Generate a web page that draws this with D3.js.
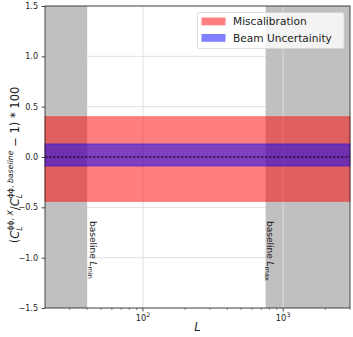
<!DOCTYPE html>
<html>
<head>
<meta charset="utf-8">
<script src="https://cdn.jsdelivr.net/npm/d3@7/dist/d3.min.js"></script>
<style>
  body { margin: 0; background: #fff; }
  text { font-family: 'DejaVu Sans', sans-serif; fill: #222; }
</style>
</head>
<body>
<div id="container"></div>
<script>
// data
const yTicks = [ -1.5, -1.0, -0.5, 0.0, 0.5, 1.0, 1.5 ];
const xMajorTicks = [ 100, 1000 ];
const xMinorTicks = [ 30, 40, 50, 60, 70, 80, 90, 200, 300, 400, 500, 600, 700, 800, 900, 2000, 3000 ];
const bandNames = [ 'Miscalibration', 'Beam Uncertainity' ];
const bandLow = [ -0.44, -0.09 ];
const bandHigh = [ 0.40, 0.13 ];
const bandColors = [ '#ff0000', '#0000ff' ];
const spanLabels = [ 'min', 'max' ];
const spanStart = [ 20, 750 ];
const spanEnd = [ 40, 3000 ];

//_____ LAYOUT _____
const W = 353, H = 337;
const margin = { top: 6, right: 3, bottom: 29, left: 45 };
const width = W - margin.left - margin.right;
const height = H - margin.top - margin.bottom;

const x = d3.scaleLog().domain( [ 20, 3000 ] ).range( [ 0, width ] );
const y = d3.scaleLinear().domain( [ -1.5, 1.5 ] ).range( [ height, 0 ] );

const svg = d3.select( '#container' ).append( 'svg' )
  .attr( 'width', W ).attr( 'height', H );
const g = svg.append( 'g' )
  .attr( 'transform', `translate(${margin.left},${margin.top})` );

//_____ HORIZONTAL GRID (under the spans) _____
g.selectAll( '.hgrid' ).data( yTicks ).enter().append( 'line' )
  .attr( 'x1', 0 ).attr( 'x2', width )
  .attr( 'y1', d => y( d ) ).attr( 'y2', d => y( d ) )
  .attr( 'stroke', '#dedede' ).attr( 'stroke-width', 0.9 );

//_____ GRAY SPANS (outside baseline range) _____
g.selectAll( '.span' ).data( spanStart ).enter().append( 'rect' )
  .attr( 'x', ( d, i ) => x( d ) )
  .attr( 'width', ( d, i ) => x( spanEnd[ i ] ) - x( d ) )
  .attr( 'y', 0 ).attr( 'height', height )
  .attr( 'fill', '#c0c0c0' );

//_____ VERTICAL GRID _____
g.selectAll( '.vgrid' ).data( xMajorTicks ).enter().append( 'line' )
  .attr( 'x1', d => x( d ) ).attr( 'x2', d => x( d ) )
  .attr( 'y1', 0 ).attr( 'y2', height )
  .attr( 'stroke', '#dedede' ).attr( 'stroke-width', 0.9 );

//_____ BANDS _____
bandNames.forEach( ( name, i ) => {
  g.append( 'rect' )
    .attr( 'x', 0 ).attr( 'width', width )
    .attr( 'y', y( bandHigh[ i ] ) )
    .attr( 'height', y( bandLow[ i ] ) - y( bandHigh[ i ] ) )
    .attr( 'fill', bandColors[ i ] ).attr( 'fill-opacity', 0.5 )
    .attr( 'stroke', bandColors[ i ] ).attr( 'stroke-opacity', 0.5 )
    .attr( 'stroke-width', 0.8 );
} );

//_____ ZERO LINE _____
g.append( 'line' )
  .attr( 'x1', 0 ).attr( 'x2', width )
  .attr( 'y1', y( 0 ) ).attr( 'y2', y( 0 ) )
  .attr( 'stroke', '#000' ).attr( 'stroke-width', 0.9 )
  .attr( 'stroke-dasharray', '2.6,1.4' );

//_____ BASELINE LABELS _____
spanLabels.forEach( ( lab, i ) => {
  const xpos = i === 0 ? x( spanEnd[ 0 ] ) + 2.5 : x( spanStart[ 1 ] ) + 1.5;
  const t = g.append( 'text' )
    .attr( 'transform', `translate(${xpos},${215})rotate(90)` )
    .style( 'font-size', '9px' );
  t.append( 'tspan' ).text( 'baseline ' );
  t.append( 'tspan' ).style( 'font-style', 'italic' ).text( 'L' );
  t.append( 'tspan' ).attr( 'dy', 2 ).style( 'font-size', '6.5px' ).text( lab );
} );

//_____ AXES _____
const yAxis = d3.axisLeft( y ).tickValues( yTicks ).tickSize( 3.5 ).tickPadding( 3.5 )
  .tickFormat( d => d3.format( '.1f' )( d ).replace( '-', '\u2212' ) );
const yg = g.append( 'g' ).call( yAxis );
yg.select( '.domain' ).remove();
yg.selectAll( 'text' ).style( 'font-size', '8px' ).attr( 'fill', '#222' );
yg.selectAll( 'line' ).attr( 'stroke', '#222' ).attr( 'stroke-width', 0.8 );

const xg = g.append( 'g' ).attr( 'transform', `translate(0,${height})` );
xg.selectAll( '.major' ).data( xMajorTicks ).enter().append( 'line' )
  .attr( 'x1', d => x( d ) ).attr( 'x2', d => x( d ) )
  .attr( 'y1', 0 ).attr( 'y2', 3.5 )
  .attr( 'stroke', '#222' ).attr( 'stroke-width', 0.8 );
xg.selectAll( '.minor' ).data( xMinorTicks ).enter().append( 'line' )
  .attr( 'x1', d => x( d ) ).attr( 'x2', d => x( d ) )
  .attr( 'y1', 0 ).attr( 'y2', 2 )
  .attr( 'stroke', '#444' ).attr( 'stroke-width', 0.6 );
xg.selectAll( '.xlab' ).data( xMajorTicks ).enter().append( 'text' )
  .attr( 'x', d => x( d ) ).attr( 'y', 13 )
  .attr( 'text-anchor', 'middle' )
  .style( 'font-size', '8.3px' )
  .each( function ( d ) {
    const t = d3.select( this );
    t.append( 'tspan' ).text( '10' );
    t.append( 'tspan' ).attr( 'dy', -3.8 ).style( 'font-size', '6.3px' ).text( Math.round( Math.log10( d ) ) );
  } );

// frame
g.append( 'rect' )
  .attr( 'width', width ).attr( 'height', height )
  .attr( 'fill', 'none' ).attr( 'stroke', '#222' ).attr( 'stroke-width', 0.8 );

//_____ AXIS LABELS _____
svg.append( 'text' )
  .attr( 'x', margin.left + width / 2 ).attr( 'y', 331 )
  .attr( 'text-anchor', 'middle' )
  .style( 'font-size', '11.5px' ).style( 'font-style', 'italic' )
  .text( 'L' );

const yl = svg.append( 'text' )
  .attr( 'transform', `translate(18.5,165)rotate(-90)` )
  .attr( 'text-anchor', 'middle' )
  .style( 'font-size', '11.5px' );
yl.append( 'tspan' ).text( '(' );
yl.append( 'tspan' ).style( 'font-style', 'italic' ).text( 'C' );
yl.append( 'tspan' ).attr( 'dy', 3.2 ).style( 'font-size', '7.8px' ).style( 'font-style', 'italic' ).text( 'L' );
yl.append( 'tspan' ).attr( 'dx', -4.4 ).attr( 'dy', -8.8 ).style( 'font-size', '7.8px' ).text( '\u03d5\u03d5, ' )
  .append( 'tspan' ).style( 'font-style', 'italic' ).text( 'X' );
yl.append( 'tspan' ).attr( 'dy', 5.6 ).text( '/' );
yl.append( 'tspan' ).style( 'font-style', 'italic' ).text( 'C' );
yl.append( 'tspan' ).attr( 'dy', 3.2 ).style( 'font-size', '7.8px' ).style( 'font-style', 'italic' ).text( 'L' );
yl.append( 'tspan' ).attr( 'dx', -4.4 ).attr( 'dy', -8.8 ).style( 'font-size', '7.8px' ).text( '\u03d5\u03d5, ' )
  .append( 'tspan' ).style( 'font-style', 'italic' ).text( 'baseline' );
yl.append( 'tspan' ).attr( 'dy', 5.6 ).text( ' \u2212 1) * 100' );

//_____ LEGEND _____
const legend = svg.append( 'g' ).attr( 'transform', 'translate(197.5,12.5)' );
legend.append( 'rect' )
  .attr( 'width', 146.5 ).attr( 'height', 36 ).attr( 'rx', 2 )
  .attr( 'fill', '#fff' ).attr( 'fill-opacity', 0.8 )
  .attr( 'stroke', '#d6d6d6' ).attr( 'stroke-width', 0.8 );
const items = legend.selectAll( '.item' ).data( bandNames ).enter().append( 'g' )
  .attr( 'transform', ( d, i ) => `translate(4,${5 + i * 16.5})` );
items.append( 'rect' )
  .attr( 'width', 24 ).attr( 'height', 7.8 )
  .attr( 'fill', ( d, i ) => bandColors[ i ] ).attr( 'fill-opacity', 0.5 );
items.append( 'text' )
  .attr( 'x', 31.5 ).attr( 'y', 7.8 )
  .style( 'font-size', '10.6px' )
  .text( d => d );
</script>
</body>
</html>
